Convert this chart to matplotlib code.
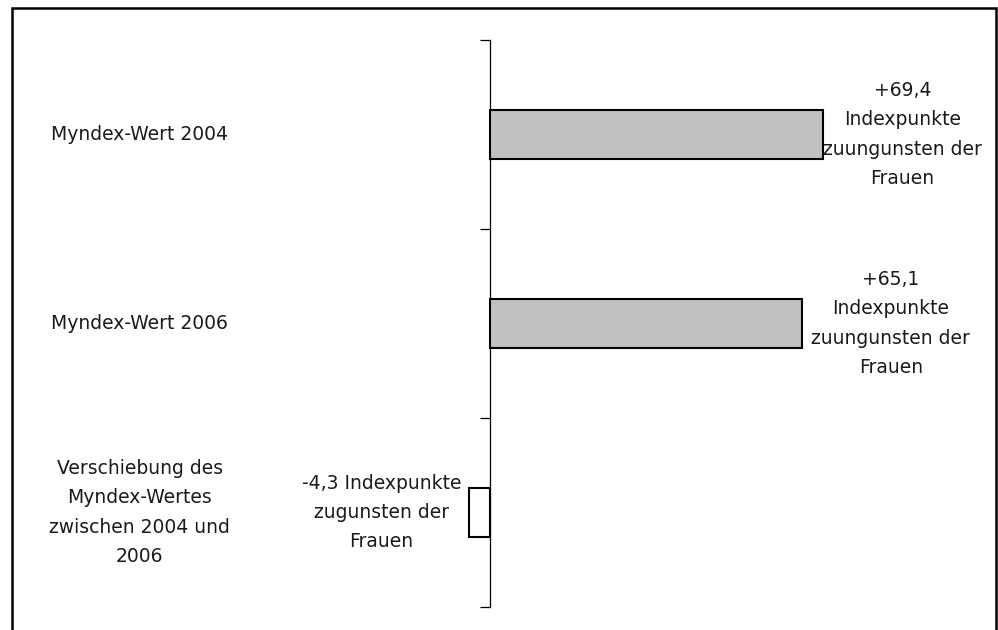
import matplotlib.pyplot as plt
from matplotlib.patches import Rectangle

categories = ["Myndex-Wert 2004", "Myndex-Wert 2006",
              "Verschiebung des\nMyndex-Wertes\nzwischen 2004 und\n2006"]
values = [69.4, 65.1, -4.3]
value_labels = ["+69,4\nIndexpunkte\nzuungunsten der\nFrauen",
                "+65,1\nIndexpunkte\nzuungunsten der\nFrauen",
                "-4,3 Indexpunkte\nzugunsten der\nFrauen"]
fills = ["#c0c0c0", "#c0c0c0", "white"]

plt.rcParams['font.family'] = ['DejaVu Sans']

W, H = 998, 630
fig = plt.figure(figsize=(W / 100, H / 100), dpi=100)

# axes: x=0 at px 490, 4.8 px per unit; categories 189 px apart
left_px, right_px = 250, 990
top_px, bot_px = 40, 607
ax = fig.add_axes([left_px / W, 1 - bot_px / H,
                   (right_px - left_px) / W, (bot_px - top_px) / H])
scale = 4.8
ax.set_xlim(-(490 - left_px) / scale, (right_px - 490) / scale)
ax.set_ylim(len(values) - 0.5, -0.5)

ypos = list(range(len(values)))
ax.barh(ypos, values, height=0.254, color=fills, edgecolor="black",
        linewidth=1.5, zorder=3)

for s in ["top", "right", "bottom"]:
    ax.spines[s].set_visible(False)
ax.spines["left"].set_position(("data", 0))
ax.spines["left"].set_linewidth(0.9)
ax.set_xticks([])
ax.set_yticks([y - 0.5 for y in range(len(values) + 1)])
ax.set_yticklabels([])
ax.tick_params(axis="y", length=7, width=0.9, direction="out")

fs = 13.5
ls = 1.68
for y, cat in zip(ypos, categories):
    ax.text(-73, y, cat, ha="center", va="center", fontsize=fs,
            linespacing=ls, color="#1a1a1a")

for y, v, lab in zip(ypos, values, value_labels):
    if v >= 0:
        off = 0 if y == 0 else 9
        ax.annotate(lab, xy=(v, y), xytext=(off * 0.72, 0),
                    textcoords="offset points", ha="left", va="center",
                    multialignment="center", fontsize=fs, linespacing=ls,
                    color="#1a1a1a")
    else:
        ax.annotate(lab, xy=(v, y), xytext=(-6, 0),
                    textcoords="offset points", ha="right", va="center",
                    multialignment="center", fontsize=fs, linespacing=ls,
                    color="#1a1a1a")

# outer frame
fig.patches.append(Rectangle((11.5 / W, -0.1), (996 - 11.5) / W,
                             1.1 - 8.5 / H, transform=fig.transFigure,
                             fill=False, edgecolor="black", linewidth=1.8))

fig.savefig("out.png", dpi=100)
